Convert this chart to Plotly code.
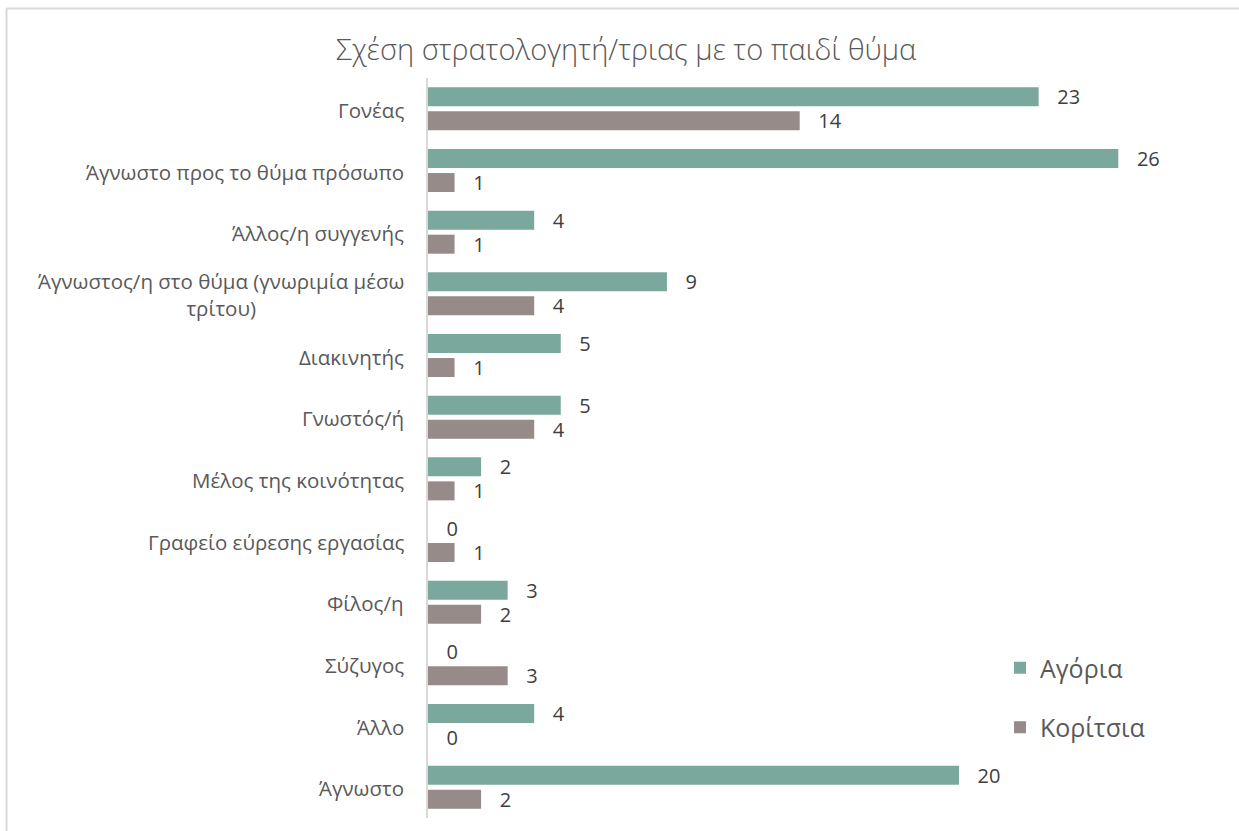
import plotly.graph_objects as go

categories = [
    "Γονέας",
    "Άγνωστο προς το θύμα πρόσωπο",
    "Άλλος/η συγγενής",
    "Άγνωστος/η στο θύμα (γνωριμία μέσω τρίτου)",
    "Διακινητής",
    "Γνωστός/ή",
    "Μέλος της κοινότητας",
    "Γραφείο εύρεσης εργασίας",
    "Φίλος/η",
    "Σύζυγος",
    "Άλλο",
    "Άγνωστο",
]
tick_labels = [
    "Γονέας",
    "Άγνωστο προς το θύμα πρόσωπο",
    "Άλλος/η συγγενής",
    "Άγνωστος/η στο θύμα (γνωριμία μέσω<br>τρίτου)",
    "Διακινητής",
    "Γνωστός/ή",
    "Μέλος της κοινότητας",
    "Γραφείο εύρεσης εργασίας",
    "Φίλος/η",
    "Σύζυγος",
    "Άλλο",
    "Άγνωστο",
]
boys = [23, 26, 4, 9, 5, 5, 2, 0, 3, 0, 4, 20]
girls = [14, 1, 1, 4, 1, 4, 1, 1, 2, 3, 0, 2]
series_names = ["Αγόρια", "Κορίτσια"]
colors = ["#7aa89c", "#968b89"]

W, H = 1239, 831
ML, MR, MT, MB = 428, 39, 78, 13
PW = W - ML - MR
PH = H - MT - MB
FONT = "Open Sans"

fig = go.Figure()
for name, vals, col in zip(series_names, [boys, girls], colors):
    fig.add_trace(go.Bar(
        y=categories, x=vals, name=name, orientation="h",
        marker=dict(color=col, line=dict(width=0)),
        text=vals, texttemplate="\u00a0\u00a0\u00a0%{x}", textposition="outside",
        textfont=dict(family=FONT, size=20, color="#404040"),
        constraintext="none",
        cliponaxis=False, legendgroup=name,
    ))

annotations = []
for cat, lab in zip(categories, tick_labels):
    annotations.append(dict(
        x=0, xref="paper", y=cat, yref="y", text=lab, showarrow=False,
        xanchor="right", yanchor="middle", xshift=-22, yshift=-1, align="center",
        font=dict(family=FONT, size=20.5, color="#595959"),
    ))

def px_x(p):
    return (p - ML) / PW

def px_y(p):
    return (H - MB - p) / PH

shapes = [
    dict(type="line", xref="paper", yref="paper", x0=px_x(6.5), x1=px_x(W), y0=px_y(8.5), y1=px_y(8.5),
         line=dict(color="#d9d9d9", width=2)),
    dict(type="line", xref="paper", yref="paper", x0=px_x(6.5), x1=px_x(6.5), y0=px_y(8.5), y1=px_y(H),
         line=dict(color="#d9d9d9", width=2)),
]

fig.update_layout(
    width=W, height=H,
    margin=dict(l=ML, r=MR, t=MT, b=MB),
    paper_bgcolor="white", plot_bgcolor="white",
    barmode="group", bargap=0.22, bargroupgap=0.21,
    title=dict(text="Σχέση στρατολογητή/τριας με το παιδί θύμα", x=626 / W, xanchor="center",
               y=1 - 50 / H, yanchor="middle", yref="container",
               font=dict(family=FONT, size=29, color="#595959", weight=300)),
    xaxis=dict(range=[0, PW / 26.55], showgrid=False, zeroline=False, showticklabels=False,
               ticks="", showline=False),
    yaxis=dict(autorange="reversed", showticklabels=False, ticks="", showgrid=False,
               zeroline=False, showline=True, linecolor="#d9d9d9", linewidth=1.5),
    legend=dict(x=px_x(1000), y=px_y(645), xanchor="left", yanchor="top",
                font=dict(family=FONT, size=25, color="#595959"),
                tracegroupgap=24, bgcolor="rgba(0,0,0,0)", traceorder="grouped"),
    annotations=annotations,
    shapes=shapes,
    font=dict(family=FONT, color="#595959"),
)

fig.write_html("out.html", config={"displayModeBar": False},
               post_script="document.body.style.margin='0';document.body.style.overflow='hidden';")
